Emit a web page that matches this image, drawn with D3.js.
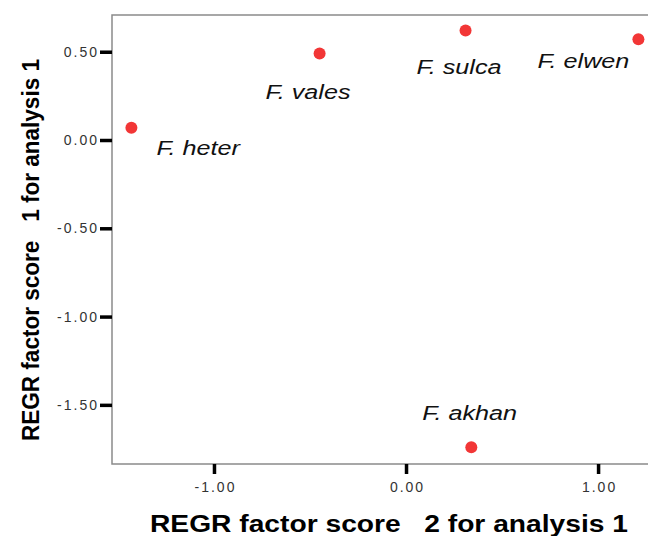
<!DOCTYPE html>
<html>
<head>
<meta charset="utf-8">
<script src="https://cdn.jsdelivr.net/npm/d3@7"></script>
<style>
  body { margin: 0; background: #fff; }
  svg { display: block; }
</style>
</head>
<body>
<div id="scatter"></div>
<script>
// Species and factor scores
var species = ["F. heter", "F. vales", "F. sulca", "F. elwen", "F. akhan"];
var score2 = [-1.43, -0.45, 0.31, 1.21, 0.34];   // x axis
var score1 = [0.07, 0.49, 0.62, 0.57, -1.74];    // y axis
var xTicks = [-1.0, 0.0, 1.0];
var yTicks = [0.5, 0.0, -0.5, -1.0, -1.5];

// Label placement relative to each point (pixels: left edge, baseline)
var labelOffsets = [[25, 27], [-54, 46], [-49, 43], [-101, 29], [-49, -27]];

var svgWidth = 648;
var svgHeight = 536;
var margin = { top: 15, right: 0, bottom: 72, left: 112 };
var width = svgWidth - margin.left - margin.right;
var height = svgHeight - margin.top - margin.bottom;
var font = "Arial, 'Liberation Sans', sans-serif";

// Plain hyphen for negative numbers, as in the original
var fmt = d => d3.format(".2f")(d).replace("\u2212", "-");

var svg = d3.select("#scatter")
    .append("svg")
    .attr("width", svgWidth)
    .attr("height", svgHeight);

var chartGroup = svg.append("g")
    .attr("transform", `translate(${margin.left}, ${margin.top})`);

var xScale = d3.scaleLinear().domain([-1.531, 1.26]).range([0, width]);
var yScale = d3.scaleLinear().domain([-1.835, 0.708]).range([height, 0]);

// Frame
chartGroup.append("rect")
    .attr("x", 0).attr("y", 0)
    .attr("width", width + 10).attr("height", height)
    .attr("fill", "none")
    .attr("stroke", "#8a8a8a")
    .attr("stroke-width", 1.5);

// Axes
var bottomAxis = d3.axisBottom(xScale).tickValues(xTicks).tickFormat(fmt)
    .tickSize(10).tickSizeOuter(0).tickPadding(8);
var leftAxis = d3.axisLeft(yScale).tickValues(yTicks).tickFormat(fmt)
    .tickSize(12).tickSizeOuter(0).tickPadding(1);

var xAxisG = chartGroup.append("g")
    .attr("transform", `translate(0, ${height})`)
    .call(bottomAxis);
var yAxisG = chartGroup.append("g").call(leftAxis);

[xAxisG, yAxisG].forEach(function(g) {
    g.select(".domain").remove();
    g.selectAll(".tick line").attr("stroke", "#000").attr("stroke-width", 3.5);
    g.selectAll(".tick text")
        .attr("fill", "#333")
        .style("font-family", font)
        .style("font-size", "14px")
        .style("letter-spacing", "2px");
});
xAxisG.selectAll(".tick text").attr("dx", "1px");

// Points
var data = species.map(function(s, i) {
    return { name: s, x: score2[i], y: score1[i], off: labelOffsets[i] };
});

chartGroup.selectAll("circle")
    .data(data)
    .enter()
    .append("circle")
    .attr("cx", d => xScale(d.x))
    .attr("cy", d => yScale(d.y))
    .attr("r", 6)
    .attr("fill", "#f23636");

chartGroup.selectAll(".lbl")
    .data(data)
    .enter()
    .append("text")
    .attr("class", "lbl")
    .attr("transform", d => `translate(${xScale(d.x) + d.off[0]}, ${yScale(d.y) + d.off[1]}) scale(1.2, 1)`)
    .style("font-family", font)
    .style("font-size", "21px")
    .style("font-style", "italic")
    .attr("fill", "#111")
    .text(d => d.name);

// Axis titles
svg.append("text")
    .attr("transform", "translate(39, 250) rotate(-90)")
    .attr("text-anchor", "middle")
    .attr("textLength", 382)
    .attr("lengthAdjust", "spacingAndGlyphs")
    .style("font-family", font)
    .style("font-size", "23px")
    .style("font-weight", "bold")
    .style("white-space", "pre")
    .text("REGR factor score   1 for analysis 1");

svg.append("text")
    .attr("x", 389)
    .attr("y", 532)
    .attr("text-anchor", "middle")
    .attr("textLength", 478)
    .attr("lengthAdjust", "spacingAndGlyphs")
    .style("font-family", font)
    .style("font-size", "23px")
    .style("font-weight", "bold")
    .style("white-space", "pre")
    .text("REGR factor score   2 for analysis 1");
</script>
</body>
</html>
